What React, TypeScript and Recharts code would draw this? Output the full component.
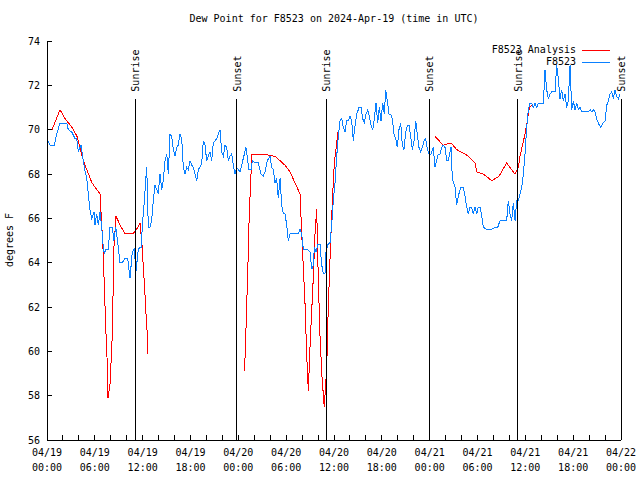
import { LineChart, Line, XAxis, YAxis, ReferenceLine, Legend } from "recharts";

const FONT = "'DejaVu Sans Mono', monospace";

// hours since 2024-04-19 00:00 UTC
const stationHours = [
  0.09, 0.38, 0.92, 1.22, 1.63, 2.47, 2.67, 3.1, 3.51, 3.73, 3.93, 4.26, 4.43, 4.68, 4.98, 5.18, 5.39, 5.61,
  5.9, 6.02, 6.23, 6.44, 6.65, 6.86, 7.06, 7.19, 7.36, 7.69, 7.9, 8.19, 8.4, 8.62, 8.87, 9.16, 9.45, 9.78,
  10.12, 10.41, 10.7, 10.95, 11.16, 11.45, 11.67, 11.8, 11.97, 12.21, 12.38, 12.51, 12.71, 12.92, 13.13,
  13.33, 13.55, 13.76, 13.96, 14.17, 14.39, 14.59, 14.8, 15.02, 15.22, 15.43, 15.64, 15.84, 16.06, 16.27,
  16.47, 16.68, 16.9, 17.1, 17.31, 17.52, 17.72, 17.94, 18.15, 18.35, 18.57, 18.78, 18.98, 19.19, 19.41,
  19.61, 19.82, 20.03, 20.23, 20.45, 20.66, 20.86, 21.07, 21.29, 21.49, 21.7, 21.91, 22.12, 22.33, 22.54,
  22.74, 22.96, 23.17, 23.37, 23.58, 23.8, 24.21, 24.62, 24.96, 25.18, 25.34, 25.59, 25.75, 26.09, 26.51,
  26.84, 27.13, 27.35, 27.63, 27.97, 28.19, 28.39, 28.6, 28.81, 29.01, 29.23, 29.44, 29.64, 29.85, 30.07,
  30.27, 30.48, 31.52, 31.74, 31.95, 32.15, 32.58, 32.99, 33.2, 33.41, 33.53, 33.74, 33.96, 34.25, 34.46,
  34.66, 34.87, 35.0, 35.21, 35.5, 35.71, 35.91, 36.13, 36.34, 36.54, 36.75, 36.97, 37.17, 37.38, 37.6,
  37.8, 38.01, 38.22, 38.42, 38.64, 38.85, 39.14, 39.39, 39.6, 39.8, 40.02, 40.23, 40.43, 40.64, 40.86,
  41.06, 41.27, 41.48, 41.68, 41.9, 42.11, 42.31, 42.49, 42.69, 42.9, 43.11, 43.31, 43.53, 43.74, 43.94,
  44.15, 44.37, 44.57, 44.78, 45.0, 45.2, 45.41, 45.62, 45.82, 46.04, 46.25, 46.45, 46.66, 46.88, 47.08,
  47.29, 47.5, 47.71, 47.92, 48.17, 48.46, 48.67, 48.88, 49.09, 49.3, 49.51, 49.71, 49.93, 50.14, 50.34,
  50.55, 50.68, 50.84, 51.18, 51.39, 51.59, 51.9, 52.22, 52.43, 52.65, 52.85, 53.06, 53.27, 53.47, 53.69,
  53.9, 54.1, 54.32, 54.53, 54.73, 55.16, 55.78, 56.2, 56.54, 56.83, 57.11, 57.66, 57.87, 58.08, 58.29,
  58.49, 58.71, 58.92, 59.12, 59.33, 59.55, 59.75, 59.96, 60.17, 60.38, 60.59, 60.8, 61.0, 61.22, 61.43,
  61.63, 61.84, 62.26, 62.47, 62.68, 62.88, 63.1, 63.31, 63.72, 63.94, 64.14, 64.35, 64.56, 64.77, 64.98,
  65.19, 65.39, 65.61, 65.82, 66.02, 66.23, 66.45, 66.65, 66.86, 67.07, 67.49, 67.9, 68.12, 68.33, 68.53,
  68.74, 69.03, 69.28, 69.49, 69.71, 70.0, 70.21, 70.41, 70.62, 70.84, 71.04, 71.25, 71.46, 71.67, 71.88,
];

const stationDewPoint = [
  69.5, 69.3, 69.3, 69.8, 70.3, 70.3, 70.0, 69.9, 69.6, 69.6, 69.0, 69.3, 68.9, 68.3, 67.8, 67.1, 66.4, 66.0,
  66.3, 65.7, 66.2, 65.7, 66.3, 65.6, 64.7, 64.4, 64.6, 64.6, 65.6, 65.6, 65.0, 65.6, 64.9, 64.0, 64.0, 64.2,
  64.2, 63.3, 64.5, 64.6, 63.6, 64.6, 64.7, 64.7, 65.7, 66.8, 67.7, 68.3, 65.6, 65.6, 65.9,
  66.8, 67.5, 67.3, 67.1, 68.0, 67.3, 67.7, 68.6, 68.9, 68.0, 69.8, 69.7, 69.1, 68.8, 69.2,
  69.3, 69.8, 69.6, 68.3, 68.0, 68.3, 68.2, 68.6, 68.4, 68.3, 68.0, 67.7, 68.2, 68.3, 68.5,
  69.5, 69.3, 68.6, 68.8, 69.0, 68.6, 69.4, 69.5, 69.6, 69.8, 70.0, 69.0, 68.8, 69.3, 69.2,
  68.6, 68.8, 68.9, 68.4, 68.0, 68.3, 68.1, 68.7, 69.2, 68.6, 68.2, 68.2, 68.6, 68.5, 68.5,
  68.0, 67.9, 68.1, 68.6, 68.8, 68.3, 68.2, 67.6, 67.8, 66.9, 67.8, 66.6, 66.2, 66.2, 65.7,
  65.0, 65.3, 65.3, 65.5, 65.3, 64.6, 64.6, 64.5, 63.7, 63.9, 64.7, 64.5, 64.8, 64.8, 63.9,
  63.5, 63.5, 64.5, 64.8, 64.9, 65.7, 66.8, 67.6, 68.8, 69.7, 70.4, 70.5, 70.1, 69.9, 70.4,
  70.4, 70.6, 70.4, 69.5, 70.2, 70.7, 71.0, 71.0, 70.5, 70.3, 70.7, 70.9, 70.6, 70.2, 70.0,
  70.5, 71.2, 70.3, 71.0, 70.4, 71.2, 70.7, 71.8, 71.3, 70.7, 70.7, 70.5, 69.8, 69.6, 69.2,
  70.0, 70.3, 69.3, 69.1, 69.9, 70.2, 70.2, 69.7, 69.1, 69.5, 70.4, 69.8, 69.2, 69.0, 69.2,
  69.5, 69.6, 69.1, 68.9, 68.9, 69.2, 68.3, 68.6, 68.9, 68.9, 69.2, 69.3, 69.2, 68.6, 68.6,
  69.0, 69.2, 67.8, 67.4, 66.6, 67.0, 67.4, 67.4, 67.0, 66.5, 66.2, 66.5, 66.5, 66.2, 66.5,
  66.2, 66.5, 66.5, 66.1, 65.6, 65.5, 65.5, 65.6, 65.6, 65.9, 65.9, 65.9, 66.8, 66.2, 65.9,
  66.7, 65.9, 66.8, 66.8, 67.1, 67.4, 68.0, 68.9, 70.1, 70.9, 71.2, 71.2, 71.0, 71.2, 71.0,
  71.2, 71.2, 71.2, 72.7, 71.8, 71.4, 71.6, 71.7, 71.7, 72.9, 72.3, 71.4, 71.8, 71.3, 71.6,
  71.0, 71.3, 72.9, 70.9, 71.3, 70.9, 71.2, 70.9, 71.0, 70.8, 70.8, 70.8, 70.9, 70.8, 70.9,
  70.8, 70.4, 70.2, 70.1, 70.3, 70.4, 71.1, 71.3, 71.6, 71.7, 71.4, 71.8, 71.5, 71.4, 71.6,
];

// analysis has gaps (null) where no values were produced
const analysisHours = [
  0.63, 1.63, 2.26, 3.14, 3.76, 4.39, 4.77, 5.64, 6.65, 7.02, 7.28, 7.4, 7.53, 7.65, 7.9, 8.15, 8.28, 8.4,
  8.65, 9.16, 9.78, 10.79, 11.4, 11.67, 11.92, 12.17, 12.3, 12.4, 12.54, 12.67,
  18.0,
  24.75, 24.84, 24.96, 25.05, 25.18, 25.25, 25.38, 25.55, 25.68, 26.97, 28.6, 29.85, 30.48, 31.11, 31.74,
  31.95, 32.36, 32.58, 32.78, 32.99, 33.2, 33.4, 33.62, 33.83, 34.03, 34.24, 34.5, 34.78, 35.09, 35.21,
  35.41, 35.62, 35.84, 36.04, 36.54,
  42.0,
  48.65, 49.71, 50.68, 51.39, 52.43, 52.85, 53.69, 53.9, 54.73, 55.78, 56.7, 57.66, 58.7, 59.12, 59.33,
  59.96, 60.25, 60.5, 60.8,
];

const analysisDewPoint = [
  70.0, 70.9, 70.5, 70.1, 69.7, 68.8, 68.4, 67.6, 67.1, 64.7, 62.0, 60.8, 59.7, 57.9, 58.5, 60.4, 62.5, 64.7,
  66.1, 65.7, 65.3, 65.3, 65.6, 65.8, 64.8, 63.3, 62.5, 61.8, 61.0, 59.9,
  null,
  59.1, 59.7, 61.0, 62.2, 63.4, 64.7, 66.3, 67.6, 68.9, 68.9, 68.8, 68.4, 68.1, 67.6, 67.1,
  65.3, 62.2, 59.8, 58.2, 60.2, 61.8, 63.3, 65.3, 66.4, 63.3, 60.7, 58.8, 57.5, 59.3, 61.1,
  63.3, 65.3, 67.1, 68.5, 70.0,
  null,
  69.7, 69.3, 69.4, 69.1, 68.9, 68.8, 68.5, 68.1, 68.0, 67.7, 67.9, 68.5, 68.0, 68.3, 68.8,
  69.8, 70.4, 71.0, 71.1,
];

const sunHours = [11.04, 23.83, 35.0, 47.92, 59.08, 72];
const sunNames = ["Sunrise", "Sunset", "Sunrise", "Sunset", "Sunrise", "Sunset"];
const SUN_TOP = 71.4;

const xLabelHours = [0, 6, 12, 18, 24, 30, 36, 42, 48, 54, 60, 66, 72];
const xLabelDates = ["04/19", "04/19", "04/19", "04/19", "04/20", "04/20", "04/20", "04/20", "04/21", "04/21", "04/21", "04/21", "04/22"];
const xLabelTimes = ["00:00", "06:00", "12:00", "18:00", "00:00", "06:00", "12:00", "18:00", "00:00", "06:00", "12:00", "18:00", "00:00"];
const xTicks = Array.from({ length: 37 }, (_, i) => i * 2);
const yTicks = [56, 58, 60, 62, 64, 66, 68, 70, 72, 74];

const seriesNames = ["F8523 Analysis", "F8523"];
const seriesColors = ["#ff0000", "#0a80ff"];

const stationData = stationHours.map((h, i) => ({ h, v: stationDewPoint[i] }));
const analysisData = analysisHours.map((h, i) => ({ h, v: analysisDewPoint[i] }));

function BottomTick(props: any) {
  const { x, y, payload } = props;
  const i = xLabelHours.indexOf(payload.value);
  return (
    <g>
      <line x1={x} x2={x} y1={y} y2={y - 5} stroke="#000" />
      {i >= 0 && (
        <text x={x} y={y} textAnchor="middle" fontFamily={FONT} fontSize={10} fill="#000">
          <tspan x={x} dy={15.5}>{xLabelDates[i]}</tspan>
          <tspan x={x} dy={15}>{xLabelTimes[i]}</tspan>
        </text>
      )}
    </g>
  );
}

function TopTick(props: any) {
  const { x, y } = props;
  return <line x1={x} x2={x} y1={y} y2={y + 5} stroke="#000" />;
}

function LeftTick(props: any) {
  const { x, y, payload } = props;
  return (
    <g>
      <line x1={x} x2={x + 5} y1={y} y2={y} stroke="#000" />
      <text x={x - 7} y={y + 3.5} textAnchor="end" fontFamily={FONT} fontSize={10} fill="#000">
        {payload.value}
      </text>
    </g>
  );
}

function RightTick(props: any) {
  const { x, y } = props;
  return <line x1={x} x2={x - 5} y1={y} y2={y} stroke="#000" />;
}

function SunLabel(props: any) {
  const { viewBox, name } = props;
  if (!viewBox) return null;
  const x = viewBox.x + 4;
  const y = viewBox.y - 7;
  return (
    <text x={x} y={y} transform={`rotate(-90 ${x} ${y})`} fontFamily={FONT} fontSize={10} fill="#000" textAnchor="start">
      {name}
    </text>
  );
}

function KeyBox() {
  return (
    <div style={{ width: 132, fontFamily: FONT, fontSize: 10, color: "#000" }}>
      {seriesNames.map((n, i) => (
        <div key={n} style={{ display: "flex", justifyContent: "flex-end", alignItems: "center", height: 12, lineHeight: "12px" }}>
          <span>{n}</span>
          <span style={{ width: 28, height: 0, borderTop: `1px solid ${seriesColors[i]}`, marginLeft: 6, marginRight: 2 }} />
        </div>
      ))}
    </div>
  );
}

export default function App() {
  return (
    <div style={{ position: "absolute", left: 0, top: 0, width: 640, height: 480, background: "#fff", fontFamily: FONT }}>
      <div style={{ position: "absolute", left: 47, top: 13, width: 574, textAlign: "center", fontSize: 10, lineHeight: "12px" }}>
        Dew Point for F8523 on 2024-Apr-19 (time in UTC)
      </div>
      <div
        style={{
          position: "absolute",
          left: 10,
          top: 240,
          fontSize: 10,
          lineHeight: "12px",
          whiteSpace: "nowrap",
          transform: "translate(-50%, -50%) rotate(-90deg)",
        }}
      >
        degrees F
      </div>
      <LineChart width={640} height={480} margin={{ top: 41, right: 19, bottom: 0, left: 8 }} style={{ shapeRendering: "crispEdges" }}>
        <XAxis
          dataKey="h"
          type="number"
          domain={[0, 72]}
          ticks={xTicks}
          interval={0}
          tick={<BottomTick />}
          tickLine={false}
          tickSize={0}
          tickMargin={0}
          height={40}
          axisLine={{ stroke: "#000" }}
          allowDataOverflow
        />
        <XAxis
          xAxisId="top"
          orientation="top"
          type="number"
          domain={[0, 72]}
          ticks={xTicks}
          interval={0}
          tick={<TopTick />}
          tickLine={false}
          tickSize={0}
          tickMargin={0}
          height={0}
          axisLine={{ stroke: "#000" }}
          allowDataOverflow
        />
        <YAxis
          type="number"
          domain={[56, 74]}
          ticks={yTicks}
          interval={0}
          tick={<LeftTick />}
          tickLine={false}
          tickSize={0}
          tickMargin={0}
          width={39}
          axisLine={{ stroke: "#000" }}
          allowDataOverflow
        />
        <YAxis
          yAxisId="right"
          orientation="right"
          type="number"
          domain={[56, 74]}
          ticks={yTicks}
          interval={0}
          tick={<RightTick />}
          tickLine={false}
          tickSize={0}
          tickMargin={0}
          width={0}
          axisLine={{ stroke: "#000" }}
          allowDataOverflow
        />
        <Legend
          layout="horizontal"
          verticalAlign="middle"
          align="center"
          content={<KeyBox />}
          wrapperStyle={{ position: "absolute", left: 480, top: 44, width: 132, height: 24 }}
        />
        <Line
          data={analysisData}
          dataKey="v"
          name={seriesNames[0]}
          type="linear"
          stroke={seriesColors[0]}
          strokeWidth={1}
          dot={false}
          activeDot={false}
          connectNulls={false}
          isAnimationActive={false}
        />
        <Line
          data={stationData}
          dataKey="v"
          name={seriesNames[1]}
          type="linear"
          stroke={seriesColors[1]}
          strokeWidth={1}
          dot={false}
          activeDot={false}
          isAnimationActive={false}
        />
        {sunHours.map((h, i) => (
          <ReferenceLine
            key={i}
            segment={[
              { x: h, y: SUN_TOP },
              { x: h, y: 56 },
            ]}
            stroke="#000"
            strokeWidth={1}
            label={<SunLabel name={sunNames[i]} />}
          />
        ))}
      </LineChart>
    </div>
  );
}
